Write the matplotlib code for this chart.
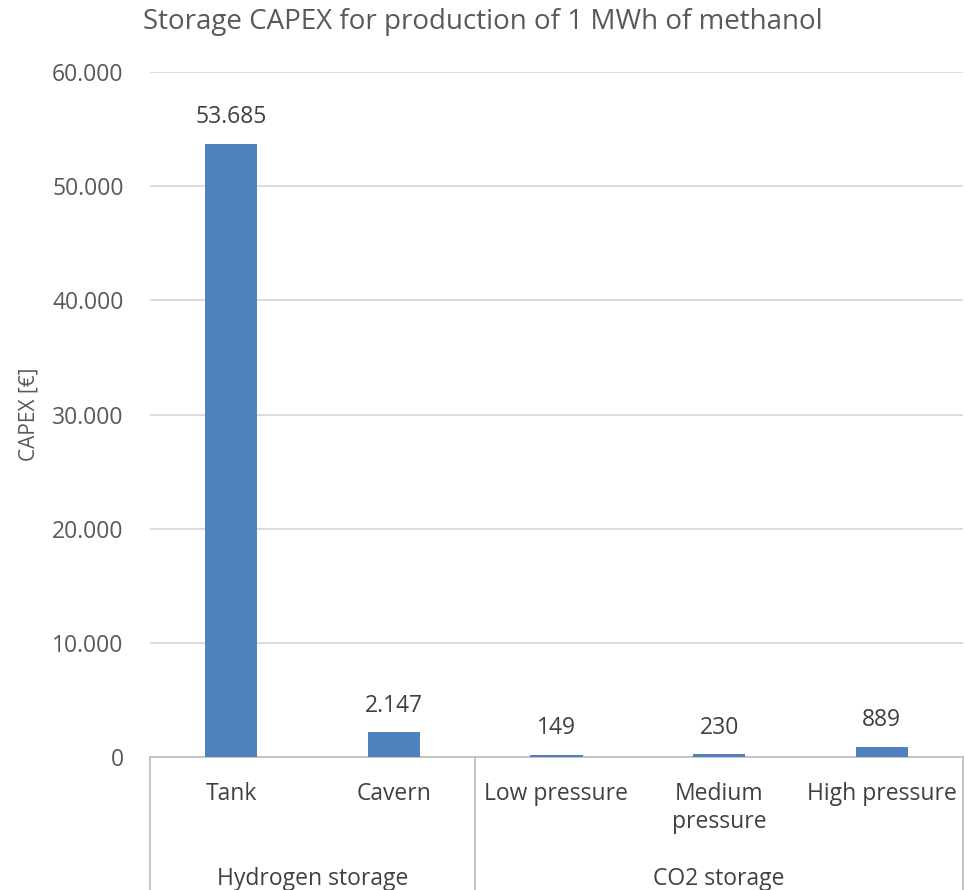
import numpy as np
import matplotlib.pyplot as plt
from matplotlib.ticker import FuncFormatter
import matplotlib.transforms as mtransforms

# Storage CAPEX per MWh of methanol, grouped by storage type
groups     = ['Hydrogen storage', 'CO2 storage']
group_size = [2, 3]
categories = ['Tank', 'Cavern', 'Low pressure', 'Medium\npressure', 'High pressure']
capex      = [53685, 2147, 149, 230, 889]

plt.rcParams['font.family'] = ['Open Sans', 'DejaVu Sans']

def dotted(v, pos=None):
    return '{:,.0f}'.format(v).replace(',', '.')

W, H = 965, 890
AW, AH = 963 - 150, 757 - 72
fig = plt.figure(figsize=(W/100, H/100), dpi=100)
ax  = fig.add_axes([150/W, (H-757)/H, AW/W, AH/H])

x = np.arange(len(categories))
ax.bar(x, capex, width=0.32, color='#4F81BD', zorder=3)
for xi, v in zip(x, capex):
    ax.text(xi, v + 1300, dotted(v), ha='center', va='bottom',
            fontsize=16.5, color='#404040')

ax.set_xlim(-0.5, len(categories) - 0.5)
ax.set_ylim(0, 60000)
ax.set_yticks(np.arange(0, 60001, 10000))
ax.yaxis.set_major_formatter(FuncFormatter(dotted))
ax.tick_params(axis='y', length=0, labelsize=16.5, labelcolor='#595959', pad=19)
ax.tick_params(axis='x', length=0, bottom=False, labelbottom=False)
ax.grid(axis='y', color='#D9D9D9', linewidth=1.3, zorder=0)
for s in ['top', 'right', 'left']:
    ax.spines[s].set_visible(False)
ax.spines['bottom'].set_color('#BFBFBF')
ax.spines['bottom'].set_linewidth(1.3)

ax.set_ylabel('CAPEX [€]', fontsize=15, color='#595959')
ax.yaxis.set_label_coords((40 - 150) / AW, 0.5)
fig.text(483/W, 1 - 22/H, 'Storage CAPEX for production of 1 MWh of methanol',
         ha='center', va='center', fontsize=20, color='#595959')

# two-level category axis below the plot
trans = mtransforms.blended_transform_factory(ax.transData, ax.transAxes)
ybot = -133 / AH
for xi, lab in zip(x, categories):
    ax.text(xi, -25/AH, lab, transform=trans, ha='center', va='top',
            fontsize=16.5, color='#404040', linespacing=1.2)

edges = np.concatenate([[0], np.cumsum(group_size)]) - 0.5
for e in edges:
    ax.plot([e, e], [0, ybot], transform=trans, color='#BFBFBF',
            linewidth=1.3, clip_on=False)
for g, a, b in zip(groups, edges[:-1], edges[1:]):
    ax.text((a + b) / 2, -122/AH, g, transform=trans, ha='center',
            va='center', fontsize=16.5, color='#404040')

fig.savefig('out.png', dpi=100)
